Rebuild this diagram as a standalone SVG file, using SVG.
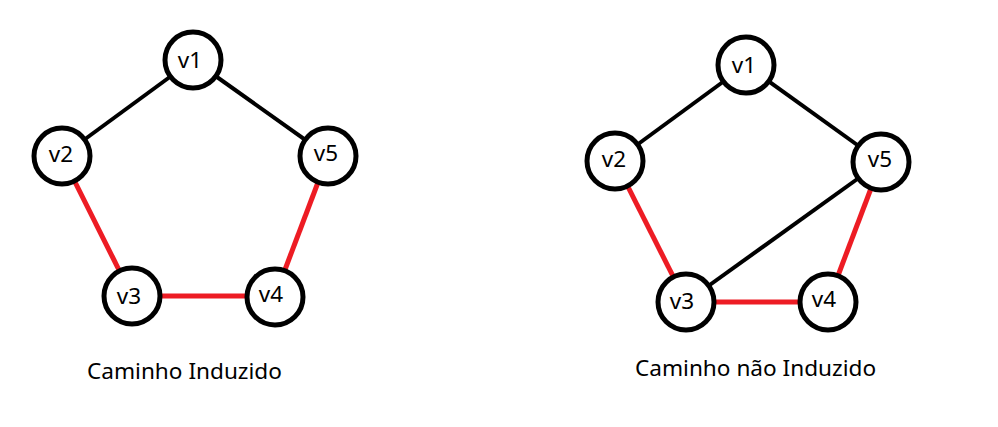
<svg xmlns="http://www.w3.org/2000/svg" width="998" height="427" viewBox="0 0 998 427">
<style>
.node circle{fill:#fff;stroke:#000;stroke-width:5}
.node text{font-family:"Noto Sans","Open Sans",sans-serif;font-size:22.5px;fill:#000;text-anchor:middle}
.e{stroke:#000;stroke-width:4;fill:none}
.r{stroke:#ED1C24;stroke-width:5;fill:none}
.cap{font-family:"Noto Sans","Open Sans",sans-serif;font-size:22.6px;fill:#000}
</style>
<rect width="998" height="427" fill="#fff"/>
<g id="connectors">
<line class="e" x1="193" y1="60" x2="62" y2="156"/>
<line class="e" x1="193" y1="60" x2="328" y2="156"/>
<line class="r" x1="62" y1="156" x2="132" y2="296"/>
<line class="r" x1="132" y1="296" x2="275" y2="296"/>
<line class="r" x1="275" y1="296" x2="328" y2="156"/>
<line class="e" x1="746" y1="65" x2="615" y2="161"/>
<line class="e" x1="746" y1="65" x2="881" y2="162"/>
<line class="e" x1="686" y1="302" x2="881" y2="162"/>
<line class="r" x1="615" y1="161" x2="686" y2="302"/>
<line class="r" x1="686" y1="302" x2="828" y2="302"/>
<line class="r" x1="828" y1="302" x2="881" y2="162"/>
</g>
<g id="L-v1" class="node"><circle cx="193" cy="60" r="28"/><text x="190" y="68">v1</text></g>
<g id="L-v2" class="node"><circle cx="62" cy="156" r="28"/><text x="61" y="162">v2</text></g>
<g id="L-v3" class="node"><circle cx="132" cy="296" r="28"/><text x="129" y="304">v3</text></g>
<g id="L-v4" class="node"><circle cx="275" cy="297" r="28"/><text x="271" y="302">v4</text></g>
<g id="L-v5" class="node"><circle cx="328" cy="156" r="28"/><text x="326" y="161">v5</text></g>
<g id="R-v1" class="node"><circle cx="746" cy="65" r="28"/><text x="744" y="73">v1</text></g>
<g id="R-v2" class="node"><circle cx="615" cy="161" r="28"/><text x="614" y="167">v2</text></g>
<g id="R-v3" class="node"><circle cx="686" cy="302" r="28"/><text x="682" y="309">v3</text></g>
<g id="R-v4" class="node"><circle cx="828" cy="302" r="28"/><text x="824" y="307">v4</text></g>
<g id="R-v5" class="node"><circle cx="881" cy="162" r="28"/><text x="880" y="167">v5</text></g>
<text class="cap" x="87" y="379">Caminho Induzido</text>
<text class="cap" x="635" y="376">Caminho não Induzido</text>
</svg>
